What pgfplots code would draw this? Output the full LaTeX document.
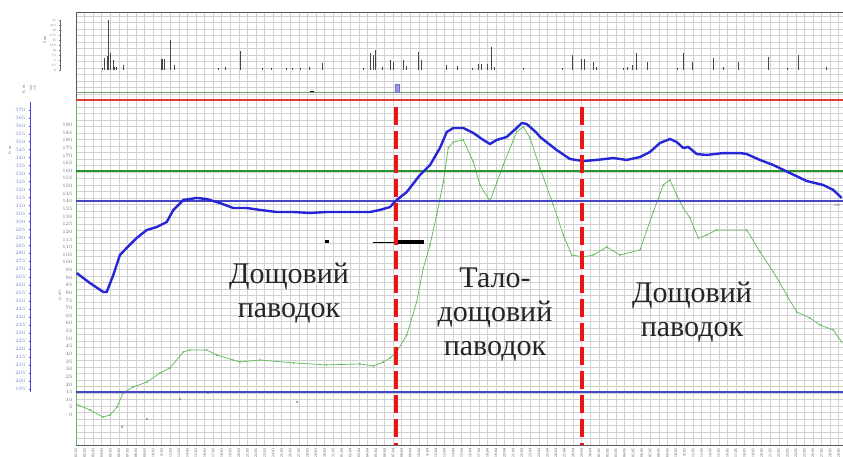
\documentclass[border=0pt]{standalone}
\usepackage{pgfplots}
\pgfplotsset{compat=1.18}
\usepackage{fontspec}
\setmainfont{Liberation Serif}

\definecolor{hblue}{RGB}{38,38,215}
\definecolor{qgreen}{RGB}{95,185,85}
\definecolor{lgreen}{RGB}{40,150,40}
\definecolor{lblue}{RGB}{70,70,200}
\definecolor{lred}{RGB}{225,60,60}
\definecolor{dred}{RGB}{235,20,20}

\pgfplotsset{
  tinytick/.style={font=\fontsize{3.2}{3.6}\selectfont, text=black!55},
}

\begin{document}
\begin{tikzpicture}[x=1pt,y=1pt]
\useasboundingbox (0,0) rectangle (843,457);
\fill[white] (0,0) rectangle (843,457);

% background grid with date ticks
\begin{axis}[at={(76pt,12pt)}, anchor=south west, scale only axis,
  width=767pt, height=433pt,
  xmin=0, xmax=89.5, ymin=0, ymax=433,
  xtick={0,...,89},
  xticklabels={01.03,02.03,03.03,04.03,05.03,06.03,07.03,08.03,09.03,10.03,
    11.03,12.03,13.03,14.03,15.03,16.03,17.03,18.03,19.03,20.03,
    21.03,22.03,23.03,24.03,25.03,26.03,27.03,28.03,29.03,30.03,31.03,
    01.04,02.04,03.04,04.04,05.04,06.04,07.04,08.04,09.04,10.04,
    11.04,12.04,13.04,14.04,15.04,16.04,17.04,18.04,19.04,20.04,
    21.04,22.04,23.04,24.04,25.04,26.04,27.04,28.04,29.04,30.04,
    01.05,02.05,03.05,04.05,05.05,06.05,07.05,08.05,09.05,10.05,
    11.05,12.05,13.05,14.05,15.05,16.05,17.05,18.05,19.05,20.05,
    21.05,22.05,23.05,24.05,25.05,26.05,27.05,28.05,29.05},
  x tick label style={rotate=90, anchor=east, font=\fontsize{3.8}{4}\selectfont, text=black!70},
  ytick distance=6.5, yticklabels={},
  xmajorgrids, ymajorgrids,
  major grid style={black!18, line width=0.45pt},
  major tick length=0pt,
  axis line style={black!65, line width=0.8pt},
]
\end{axis}

% precipitation
\begin{axis}[at={(76pt,387pt)}, anchor=south west, scale only axis,
  width=767pt, height=58pt, xmin=0, xmax=89.5, ymin=0, ymax=29, hide axis]
\addplot[ycomb, line width=1pt, black!72] coordinates {
(3.12,0.8)(3.38,6)(3.62,7)(3.85,25)(4.08,8.5)(4.32,5)(4.55,1.5)(4.78,1.5)(5.52,2.5)
(9.92,5.5)(10.09,5.5)(10.27,5.5)(10.97,15)(11.55,2.5)
(16.57,1)(17.39,1.5)(19.14,9.5)(21.82,1)(22.87,1)(24.62,1)(25.32,1)(26.14,1)(27.30,1.5)(28.82,3.5)
(33.49,1)(34.31,8.5)(34.66,7.5)(34.92,10)(35.71,1.5)(36.64,5)(36.99,4)(38.16,5)(38.62,2)(40.02,9)(40.37,5)
(43.29,2.5)(44.57,2)(46.21,1)(46.91,3)(47.37,3)(47.96,3)(48.54,11.5)(48.89,1.5)(52.16,1)
(56.71,1)(57.99,7.5)(59.04,5.5)(59.39,5.5)(60.33,4)(60.79,1.5)(63.83,1)(64.41,1.5)(64.88,2.5)(65.46,8.5)(66.74,4)
(70.13,1)(70.83,8.5)(71.88,4)(74.33,6)(75.50,1.5)(77.25,4)(80.75,6.5)(83.08,1)(84.36,7.5)(87.63,1.5)};
\end{axis}

% precipitation scale
\begin{axis}[at={(60pt,387pt)}, anchor=south west, scale only axis,
  width=1pt, height=50pt, xmin=0, xmax=1, ymin=0, ymax=25,
  axis x line=none, axis y line=left, axis line style={black!60, -},
  ytick={0,2.5,...,25}, yticklabels={0,2.5,5,7.5,10,12.5,15,17.5,20,22.5,25},
  yticklabel style={tinytick}, major tick length=1.5pt]
\end{axis}

% water level scale
\begin{axis}[at={(30pt,65pt)}, anchor=south west, scale only axis,
  width=1pt, height=290pt, xmin=0, xmax=1, ymin=193.2, ymax=374.8,
  axis x line=none, axis y line=left, axis line style={lblue, line width=1pt, -},
  ytick={195,200,...,375}, yticklabel style={tinytick, text=lblue!70},
  major tick length=2pt, tick style={lblue}]
\end{axis}

% discharge
\begin{axis}[at={(76pt,12pt)}, anchor=south west, scale only axis,
  width=767pt, height=345pt, xmin=0, xmax=89.5, ymin=-19.65, ymax=206.3,
  axis x line=none, axis y line=left,
  axis line style={lgreen!70, line width=0.8pt, -},
  ytick={0,5,...,190}, yticklabel style={tinytick},
  major tick length=0pt]
\addplot[qgreen, line width=0.7pt, mark=*, mark size=0.35pt] coordinates {
(0.23,6.6)(1.63,3.3)(3.15,-1.3)(3.97,0)(4.78,5.2)(5.48,14.4)(6.65,18.3)(8.28,21.6)
(9.80,27.5)(10.97,30.8)(12.52,41.3)(13.30,42.6)(15.25,42.6)(16.42,39.3)(18.35,36.0)
(19.14,34.7)(21.47,36.0)(25.36,34.1)(29.25,32.8)(33.14,33.4)(34.69,32.1)(35.86,34.7)
(36.64,37.3)(37.42,41.3)(38.59,52.4)(39.75,74.0)(40.53,96.3)(41.31,111.4)(42.09,131.0)
(42.86,152.6)(43.44,174.9)(44.03,178.8)(45.19,180.1)(46.36,165.7)(47.14,150.7)
(48.31,140.2)(49.09,152.0)(49.86,163.8)(51.42,185.4)(52.19,188.6)(52.98,181.4)
(54.14,161.8)(55.69,137.6)(56.86,117.9)(57.84,104.8)(59.19,103.5)(60.36,104.8)
(61.92,110.0)(63.48,104.8)(65.81,108.1)(67.36,133.0)(68.53,150.7)(69.31,153.9)
(70.09,144.1)(70.86,135.6)(71.65,129.0)(72.61,115.9)(73.59,117.9)(74.76,121.2)
(78.26,121.2)(79.81,106.8)(81.37,93.7)(82.93,78.6)(84.09,67.5)(85.65,63.5)
(86.81,59.0)(88.36,55.7)(89.35,47.8)};
\addplot[only marks, mark=*, mark size=0.6pt, black!55] coordinates {
(5.37,-7.9)(8.28,-2.6)(12.14,10.5)(15.40,14.4)(25.79,8.5)};
\end{axis}

% water level
\begin{axis}[at={(76pt,12pt)}, anchor=south west, scale only axis,
  width=767pt, height=345pt, xmin=0, xmax=89.5, ymin=160, ymax=376.03,
  hide axis, clip=false]
\addplot[lred, line width=1.1pt] coordinates {(0,376.03)(89.5,376.03)};
\addplot[lgreen!60!black!60, line width=1pt] coordinates {(0,381)(89.5,381)};
\addplot[lgreen, line width=1.1pt] coordinates {(0,331.6)(89.5,331.6)};
\addplot[lblue, line width=1.1pt] coordinates {(0,312.8)(89.5,312.8)};
\addplot[lblue, line width=1.1pt] coordinates {(0,193.2)(89.5,193.2)};
\addplot[fill=lblue!55, draw=lblue!80] coordinates {(37.25,381)(37.25,386)(37.75,386)(37.75,381)} -- cycle;
\addplot[black, line width=1.2pt] coordinates {(27.35,381.3)(27.75,381.3)};
\addplot[hblue, line width=2.4pt] coordinates {
(0.08,267.7)(1.63,261.4)(3.19,255.8)(3.58,255.8)(4.35,266.4)(5.13,279.0)(5.92,283.4)
(7.08,289.6)(8.25,294.6)(9.42,296.5)(10.58,299.6)(11.35,307.1)(12.52,313.4)(14.08,314.7)
(15.25,314.0)(16.80,311.5)(18.35,308.4)(19.92,308.4)(21.47,307.2)(23.42,305.9)
(25.36,305.9)(27.30,305.3)(29.25,305.9)(31.19,305.9)(33.14,305.9)(34.31,305.9)
(35.47,307.2)(36.64,309.0)(37.42,313.4)(38.59,318.4)(40.14,329.1)(41.31,335.3)
(42.47,346.0)(43.26,356.0)(44.03,358.5)(45.19,358.5)(46.36,355.4)(47.53,351.0)
(48.31,348.5)(49.09,351.0)(50.26,352.9)(51.42,358.5)(52.01,361.6)(52.59,361.0)
(53.76,355.4)(54.14,352.9)(56.09,344.7)(57.64,339.1)(59.19,337.8)(60.76,338.5)
(62.70,339.7)(64.26,338.5)(65.81,340.3)(66.98,343.5)(68.14,349.1)(69.31,351.6)
(70.09,349.7)(70.86,346.0)(71.45,346.6)(72.43,342.2)(73.59,341.6)(75.53,342.8)
(77.48,342.8)(78.26,342.2)(79.81,338.5)(81.37,335.3)(83.31,330.3)(85.26,325.3)
(87.20,322.8)(88.36,319.7)(89.35,314.7)};
\addplot[black, line width=0.5pt] coordinates {(34.7,287.1)(37.3,287.1)};
\addplot[black, line width=3.2pt] coordinates {(37.3,287.1)(40.6,287.1)};
\addplot[only marks, mark=square*, mark size=1.3pt, black] coordinates {(29.25,287.6)};
\addplot[dred, line width=4pt, dash pattern=on 18pt off 6pt] coordinates {(37.3,371.6)(37.3,160)};
\addplot[dred, line width=4pt, dash pattern=on 18pt off 6pt] coordinates {(59.04,371.6)(59.04,160)};
\end{axis}

% axis titles
\node[rotate=90, font=\fontsize{3.6}{4}\selectfont, text=black!60] at (45,417) {P, мм};
\node[rotate=90, font=\fontsize{3.6}{4}\selectfont, text=black!60] at (60,162) {Q, м³/с};
\node[rotate=90, font=\fontsize{3.6}{4}\selectfont, text=black!60] at (10,307) {H, см};
\node[rotate=90, font=\fontsize{3.6}{4}\selectfont, text=black!60] at (24,368) {H, см};
\node[rotate=90, font=\fontsize{3.2}{3.6}\selectfont, text=lblue!70, align=center] at (33,369) {ЗВН\\РЗВ};
\node[font=\fontsize{3.2}{3.6}\selectfont, text=black!60] at (837,252) {ЗВН};

% flood type labels
\node[align=center, font=\fontsize{30}{34}\selectfont, text=black!85] at (289,164) {Дощовий\\паводок};
\node[align=center, font=\fontsize{30}{34}\selectfont, text=black!85] at (495,142) {Тало-\\дощовий\\паводок};
\node[align=center, font=\fontsize{30}{34}\selectfont, text=black!85] at (692,145) {Дощовий\\паводок};
\end{tikzpicture}
\end{document}
